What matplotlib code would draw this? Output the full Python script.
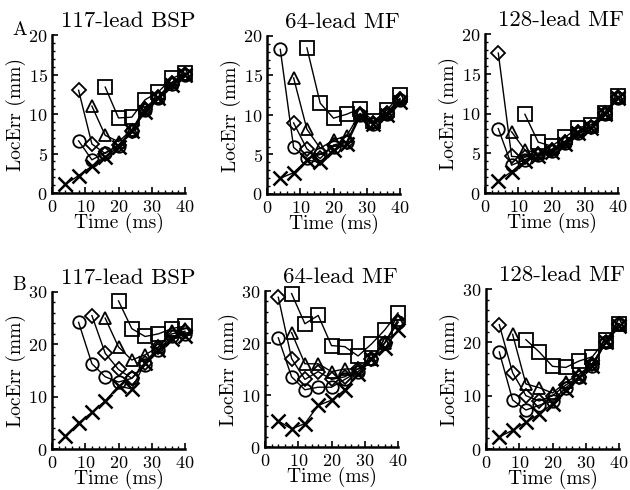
import matplotlib
matplotlib.use("Agg")
import matplotlib.pyplot as plt
from matplotlib.ticker import MultipleLocator

plt.rcParams["font.family"] = ["cmr10", "DejaVu Serif"]
plt.rcParams["mathtext.fontset"] = "cm"
plt.rcParams["axes.formatter.use_mathtext"] = True

TIME = [4, 8, 12, 16, 20, 24, 28, 32, 36, 40]
TITLES = ["117-lead BSP", "64-lead MF", "128-lead MF"]

# each series: (start time, values from start to 40 ms)
# row A
A_BSP117 = {
    "x": (4, [1.1, 2.2, 3.4, 4.6, 5.8, 7.8, 10.3, 12.0, 13.7, 15.0]),
    "o": (8, [6.6, 4.2, 5.1, 6.0, 7.8, 10.5, 12.0, 13.8, 15.0]),
    "D": (8, [13.0, 6.2, 5.0, 6.1, 7.9, 10.6, 12.1, 13.9, 15.1]),
    "^": (12, [11.0, 7.3, 6.5, 8.0, 10.8, 12.2, 14.0, 15.1]),
    "s": (16, [13.4, 9.5, 9.6, 11.8, 12.8, 14.5, 15.2]),
}
A_MF64 = {
    "x": (4, [2.0, 2.7, 4.3, 4.0, 5.6, 6.3, 9.8, 8.8, 10.0, 11.7]),
    "o": (4, [18.3, 5.9, 4.5, 5.0, 6.0, 6.6, 10.0, 8.9, 10.1, 11.9]),
    "D": (8, [9.0, 5.7, 4.5, 6.2, 6.6, 10.1, 9.0, 10.2, 12.0]),
    "^": (8, [14.7, 8.2, 5.8, 6.8, 7.4, 10.2, 9.1, 10.3, 12.1]),
    "s": (12, [18.5, 11.5, 9.6, 10.1, 10.8, 9.2, 10.6, 12.5]),
}
A_MF128 = {
    "x": (4, [1.5, 2.7, 4.0, 4.6, 5.2, 6.2, 7.5, 8.2, 10.0, 12.0]),
    "o": (4, [8.1, 3.5, 4.2, 4.8, 5.3, 6.3, 7.6, 8.3, 10.0, 12.0]),
    "D": (4, [17.6, 4.6, 4.5, 4.9, 5.4, 6.4, 7.7, 8.3, 10.1, 12.1]),
    "^": (8, [7.7, 5.4, 5.0, 5.5, 6.5, 7.8, 8.4, 10.1, 12.1]),
    "s": (12, [9.9, 6.4, 5.9, 7.0, 8.2, 8.6, 10.1, 12.2]),
}
# row B
B_BSP117 = {
    "x": (4, [2.5, 5.0, 7.0, 9.2, 12.0, 11.5, 16.5, 19.0, 21.0, 21.5]),
    "o": (8, [24.2, 16.3, 13.8, 12.8, 13.5, 16.0, 19.0, 21.5, 22.0]),
    "D": (12, [25.5, 18.3, 15.2, 13.5, 16.5, 19.5, 22.0, 22.5]),
    "^": (16, [25.0, 19.5, 17.0, 18.0, 19.5, 22.5, 23.0]),
    "s": (20, [28.3, 23.0, 21.5, 22.0, 23.0, 23.5]),
}
B_MF64 = {
    "x": (4, [5.0, 3.5, 4.5, 8.0, 9.0, 11.0, 14.0, 17.0, 19.0, 22.5]),
    "o": (4, [21.0, 13.5, 11.0, 11.5, 11.5, 13.0, 14.5, 17.0, 20.0, 24.0]),
    "D": (4, [28.8, 17.0, 13.0, 14.5, 13.0, 13.5, 15.0, 17.0, 20.0, 24.0]),
    "^": (8, [22.0, 16.0, 16.0, 14.5, 15.0, 15.0, 17.0, 20.0, 24.5]),
    "s": (8, [29.5, 23.7, 25.3, 19.5, 19.3, 17.5, 19.8, 22.5, 25.8]),
}
B_MF128 = {
    "x": (4, [2.3, 3.5, 5.0, 6.5, 8.5, 11.0, 13.5, 15.5, 20.0, 23.0]),
    "o": (4, [18.2, 9.2, 7.3, 8.2, 9.0, 11.5, 13.5, 15.5, 20.0, 23.5]),
    "D": (4, [23.3, 14.3, 10.0, 9.0, 10.0, 12.0, 13.5, 16.0, 20.0, 23.5]),
    "^": (8, [21.5, 12.2, 11.5, 10.5, 12.5, 14.0, 16.0, 20.0, 23.5]),
    "s": (12, [20.5, 18.2, 15.5, 15.3, 16.5, 17.3, 20.5, 23.5]),
}

ROWS = [[A_BSP117, A_MF64, A_MF128], [B_BSP117, B_MF64, B_MF128]]
YMAX = [20, 30]
YSTEP = [5, 10]
ROW_LABELS = ["A", "B"]

MARKER_SIZE = {"x": 10, "o": 9, "D": 7, "^": 9, "s": 9.5}

# axes boxes in pixels: (left, right, top, bottom)
BOXES = [
    [(52, 185, 35, 193), (267, 400, 36, 194), (485, 618, 34, 193)],
    [(52, 185, 292, 449), (265, 398, 291, 447), (486, 619, 289, 449)],
]
W, H = 630, 490

fig = plt.figure(figsize=(W / 100, H / 100), dpi=100)

for r, row in enumerate(ROWS):
    for c, panel in enumerate(row):
        left, right, top, bottom = BOXES[r][c]
        ax = fig.add_axes([left / W, 1 - bottom / H, (right - left) / W,
                           (bottom - top) / H])
        for marker, (start, vals) in panel.items():
            t = TIME[TIME.index(start):]
            ax.plot(t, vals, color="black", lw=1.0, marker=marker,
                    ms=MARKER_SIZE[marker], mfc="none", mec="black",
                    mew=1.3 if marker != "x" else 1.8, clip_on=False)
        ax.set_xlim(0, 40)
        ax.set_ylim(0, YMAX[r])
        ax.xaxis.set_major_locator(MultipleLocator(10))
        ax.xaxis.set_minor_locator(MultipleLocator(2))
        ax.yaxis.set_major_locator(MultipleLocator(YSTEP[r]))
        ax.yaxis.set_minor_locator(MultipleLocator(YSTEP[r] / 5))
        ax.tick_params(which="major", direction="in", length=4, width=1.2,
                       labelsize=13)
        ax.tick_params(axis="x", which="major", pad=4)
        ax.tick_params(axis="y", which="major", pad=3)
        ax.tick_params(which="minor", direction="in", length=2, width=1)
        for side in ("top", "right"):
            ax.spines[side].set_visible(False)
        for side in ("left", "bottom"):
            ax.spines[side].set_linewidth(1.8)
        ax.set_xlabel("Time (ms)", fontsize=14, labelpad=-1)
        ax.set_ylabel("LocErr (mm)", fontsize=14, labelpad=2)
        ax.set_title(TITLES[c], fontsize=16.5, pad=6, x=0.57)

    fig.text(12 / W, 1 - (30 if r == 0 else 285) / H, ROW_LABELS[r],
             fontsize=14, ha="left", va="center")

fig.savefig("out.png", dpi=100)
